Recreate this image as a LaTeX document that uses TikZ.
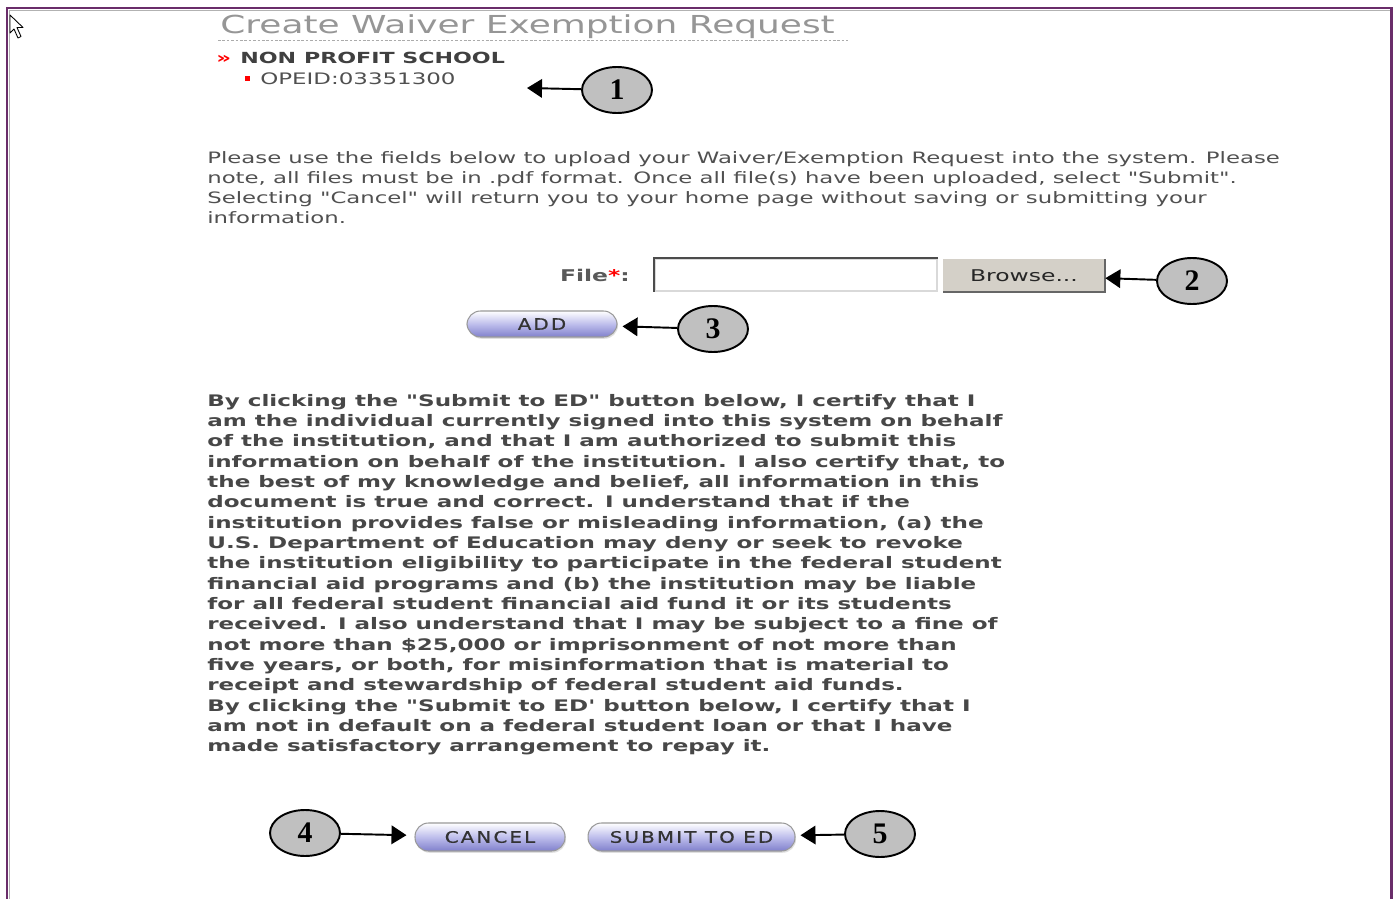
\documentclass[tikz,border=0pt]{standalone}
\usepackage{fontspec}
\setmainfont{Liberation Serif}
\newfontfamily\webfont[FakeStretch=1.45]{DejaVu Sans}
\newfontfamily\pillfont[FakeStretch=1.25,LetterSpace=14,FakeBold=0.6]{DejaVu Sans}
\usepackage{tikz}
\usetikzlibrary{positioning}
\usetikzlibrary{shapes.geometric}
\usetikzlibrary{shadows}
\usetikzlibrary{arrows, arrows.meta}

\definecolor{framepurple}{RGB}{106,45,106}
\definecolor{textgray}{RGB}{80,80,80}
\definecolor{titlegray}{RGB}{150,150,150}
\definecolor{calloutgray}{RGB}{192,192,192}
\definecolor{winbtn}{RGB}{212,208,200}
\definecolor{pillmid}{RGB}{190,190,236}
\definecolor{pillbot}{RGB}{128,128,204}

\tikzset{
	callout/.style={ellipse, draw, line width=1.1pt, fill=calloutgray, minimum width=1.4cm, minimum height=0.92cm, inner sep=0pt, font=\bfseries\fontsize{17}{17}\selectfont},
	pointer/.style={-{Triangle[length=0.3cm,width=0.37cm]}, line width=1.1pt},
	pill/.style={rectangle, rounded corners=0.27cm, draw=black!40, line width=0.6pt, top color=white, bottom color=pillbot, middle color=pillmid, drop shadow={shadow xshift=0.6pt, shadow yshift=-1pt, opacity=0.25}, inner sep=0pt, text=black!80, font=\pillfont\fontsize{9}{9}\selectfont},
	webtext/.style={anchor=base west, inner sep=0pt, text=textgray, font=\webfont\fontsize{8.94}{8.94}\selectfont},
	webbold/.style={anchor=base west, inner sep=0pt, text=black!72, font=\webfont\bfseries\fontsize{9.04}{9.04}\selectfont}
}

\begin{document}
\begin{tikzpicture}[x=0.02cm, y=-0.02cm]
	\useasboundingbox (0,0) rectangle (1393,899);
	\fill[white] (0,0) rectangle (1393,899);

	%window frame
	\draw[framepurple, line width=1.2pt] (7,899) -- (7,8) -- (1391.5,8) -- (1391.5,899);
	\draw[black!30, line width=0.6pt] (9.5,899) -- (9.5,10.5) -- (1389.5,10.5);

	%mouse pointer
	\draw[fill=white, line width=0.5pt, line join=round] (10,15) -- (10,33) -- (14,29) -- (18,38) -- (21,36.5) -- (17,27.5) -- (23,27.5) -- cycle;

	%heading
	\node[anchor=base west, inner sep=0pt, text=titlegray, font=\webfont\fontsize{14.1}{14.1}\selectfont] (title) at (220,33) {Create Waiver Exemption Request};
	\draw[titlegray!80, line width=0.5pt, dash pattern=on 1.5pt off 1pt] (218,40) -- (848,40);	%underline
	\node[anchor=base west, inner sep=0pt, text=red, font=\webfont\bfseries\fontsize{9}{9}\selectfont] (raquo) at (216,63) {»};
	\node[anchor=base west, inner sep=0pt, text=black!75, font=\webfont\bfseries\fontsize{8.7}{8.7}\selectfont] (school) at (240,63) {NON PROFIT SCHOOL};
	\fill[red] (245,76) rectangle (249.5,80.5);		%bullet
	\node[webtext, font=\webfont\fontsize{9}{9}\selectfont] (opeid) at (260,84) {OPEID:03351300};

	%intro text
	\foreach \ln [count=\i] in {
		{Please use the fields below to upload your Waiver/Exemption Request into the system. Please},
		{note, all files must be in .pdf format. Once all file(s) have been uploaded, select "Submit".},
		{Selecting "Cancel" will return you to your home page without saving or submitting your},
		{information.}}
	\node[webtext] (intro\i) at (207,163+20.2*\i-20.2) {\ln};

	%upload row
	\node[anchor=base east, inner sep=0pt, text=black!65, font=\webfont\bfseries\fontsize{9.2}{9.2}\selectfont] (filelbl) at (630,281) {File\textcolor{red}{*}:};
	\node[rectangle, draw=black!15, line width=0.8pt, fill=white, minimum width=5.64cm, minimum height=0.64cm] (fileinput) at (796,275) {};
	\draw[black!70, line width=1pt] (fileinput.south west) -- (fileinput.north west) -- (fileinput.north east);
	\node[rectangle, fill=winbtn, minimum width=3.24cm, minimum height=0.66cm, inner sep=0pt, text=black!85, font=\webfont\fontsize{9.2}{9.2}\selectfont] (browse) at (1024,275.5) {Browse...};
	\draw[black!60, line width=1pt] (browse.south west) -- (browse.south east) -- (browse.north east);
	\draw[white, line width=0.8pt] (browse.south west) -- (browse.north west) -- (browse.north east);
	\node[pill, minimum width=3cm, minimum height=0.52cm] (addbtn) at (542,324) {ADD};

	%certification text
	\foreach \ln [count=\i] in {
		{By clicking the "Submit to ED" button below, I certify that I},
		{am the individual currently signed into this system on behalf},
		{of the institution, and that I am authorized to submit this},
		{information on behalf of the institution. I also certify that, to},
		{the best of my knowledge and belief, all information in this},
		{document is true and correct. I understand that if the},
		{institution provides false or misleading information, (a) the},
		{U.S. Department of Education may deny or seek to revoke},
		{the institution eligibility to participate in the federal student},
		{financial aid programs and (b) the institution may be liable},
		{for all federal student financial aid fund it or its students},
		{received. I also understand that I may be subject to a fine of},
		{not more than \$25,000 or imprisonment of not more than},
		{five years, or both, for misinformation that is material to},
		{receipt and stewardship of federal student aid funds.},
		{By clicking the "Submit to ED' button below, I certify that I},
		{am not in default on a federal student loan or that I have},
		{made satisfactory arrangement to repay it.}}
	\node[webbold] (cert\i) at (207,406+20.35*\i-20.35) {\ln};

	%bottom buttons
	\node[pill, minimum width=3cm, minimum height=0.56cm] (cancelbtn) at (490,837) {CANCEL};
	\node[pill, minimum width=4.14cm, minimum height=0.56cm] (submitbtn) at (691.5,837) {SUBMIT TO ED};

	%numbered callouts
	\node[callout] (num1) at (617,90) {1};
	\node[callout] (num2) at (1192,281) {2};
	\node[callout] (num3) at (713,329) {3};
	\node[callout] (num4) at (305,833) {4};
	\node[callout] (num5) at (880,834) {5};
	\coordinate (tip1) at (527,88);

	%arrows
	\draw[pointer] (num1) -- (tip1);
	\draw[pointer] (num2) -- (browse);
	\draw[pointer, shorten >=0.1cm] (num3) -- (addbtn);
	\draw[pointer, shorten >=0.16cm] (num4) -- (cancelbtn);
	\draw[pointer, shorten >=0.1cm] (num5) -- (submitbtn);
\end{tikzpicture}
\end{document}
